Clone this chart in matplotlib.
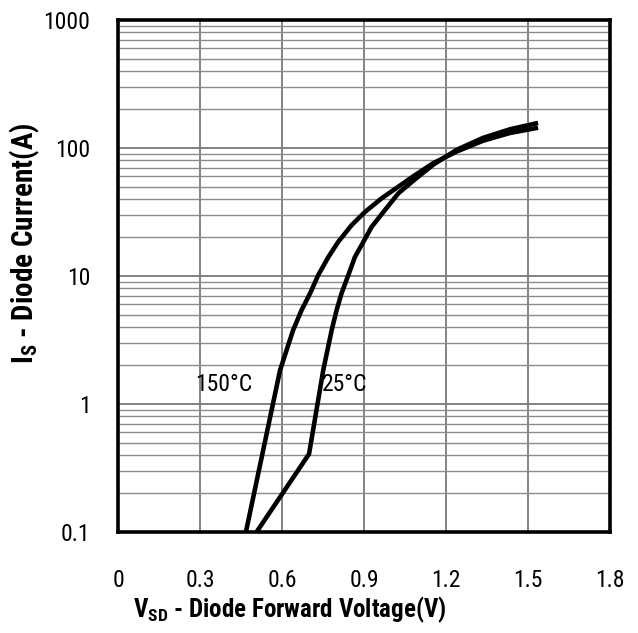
import numpy as np
import matplotlib
matplotlib.use('Agg')
import matplotlib.pyplot as plt
import matplotlib.ticker as mticker
from matplotlib import font_manager

# Curvas de corrente direta do diodo (V, A)
V_150 = [0.468, 0.593, 0.641, 0.672, 0.703, 0.733, 0.770, 0.806, 0.855,
         0.904, 0.965, 1.026, 1.080, 1.153, 1.240, 1.336, 1.434, 1.537]
I_150 = [0.1, 1.84, 3.79, 5.43, 7.33, 10.2, 14.1, 18.5, 25,
         31.7, 40.5, 49.9, 60, 76, 94, 114, 131, 144]
V_25 = [0.507, 0.699, 0.751, 0.782, 0.800, 0.818, 0.843, 0.867, 0.898,
        0.928, 0.977, 1.026, 1.087, 1.153, 1.240, 1.336, 1.434, 1.537]
I_25 = [0.1, 0.407, 1.84, 3.79, 5.43, 7.33, 10.2, 14.1, 18.5,
        24.2, 32.8, 44.3, 57, 74, 97, 120, 140, 157]

XTICKS = [0, 0.3, 0.6, 0.9, 1.2, 1.5, 1.8]
XTICKLABELS = ['0', '0.3', '0.6', '0.9', '1.2', '1.5', '1.8']
YTICKS = [0.1, 1, 10, 100, 1000]
YTICKLABELS = ['0.1', '1', '10', '100', '1000']

# fonte estreita, se houver
nomes = {f.name for f in font_manager.fontManager.ttflist}
condensadas = {f.name for f in font_manager.fontManager.ttflist
               if f.stretch in ('condensed', 'semi-condensed', 'extra-condensed')}
NARROW = None
for nome in ['Liberation Sans Narrow', 'Arial Narrow', 'DejaVu Sans Condensed',
             'Roboto Condensed', 'Open Sans Condensed', 'Noto Sans Condensed']:
    if nome in nomes:
        NARROW = [nome, 'DejaVu Sans']
        STRETCH = 'normal'
        break
if NARROW is None:
    if 'DejaVu Sans' in condensadas:
        NARROW = ['DejaVu Sans']
        STRETCH = 'condensed'
    elif condensadas:
        NARROW = [sorted(condensadas)[0], 'DejaVu Sans']
        STRETCH = 'condensed'
    else:
        NARROW = ['DejaVu Sans']
        STRETCH = 'normal'
CONDENSADA = STRETCH != 'normal' or NARROW[0] != 'DejaVu Sans'
FS = 17 if CONDENSADA else 14
FSX = 18 if CONDENSADA else 15
FSY = 21 if CONDENSADA else 17

plt.rcParams['mathtext.default'] = 'regular'

fig = plt.figure(figsize=(6.38, 6.33), dpi=100)
ax = fig.add_axes([0.185, 0.1596, 0.771, 0.8088])

ax.set_yscale('log')
ax.set_xlim(0, 1.8)
ax.set_ylim(0.1, 1000)

# grade
ax.xaxis.set_major_locator(mticker.FixedLocator(XTICKS))
ax.yaxis.set_major_locator(mticker.FixedLocator(YTICKS))
ax.yaxis.set_minor_locator(mticker.LogLocator(base=10, subs=np.arange(2, 10)))
ax.yaxis.set_minor_formatter(mticker.NullFormatter())
ax.grid(True, which='major', axis='both', color='#7a7a7a', linewidth=1.3)
ax.grid(True, which='minor', axis='y', color='#8c8c8c', linewidth=1.0)
ax.set_axisbelow(True)

for v, i in ((V_150, I_150), (V_25, I_25)):
    ax.plot(v, i, color='black', linewidth=3.3, solid_capstyle='butt',
            solid_joinstyle='round', clip_on=False, zorder=5)

for s in ax.spines.values():
    s.set_linewidth(2.6)
    s.set_color('black')

ax.set_xticks(XTICKS)
ax.set_xticklabels(XTICKLABELS, family=NARROW, stretch=STRETCH, fontsize=FS)
ax.set_yticks(YTICKS)
ax.set_yticklabels(YTICKLABELS, family=NARROW, stretch=STRETCH, fontsize=FS)
ax.tick_params(which='both', length=0)
ax.tick_params(axis='x', pad=27)
ax.tick_params(axis='y', pad=20)

ax.text(0.492, 1.42, '150°C', family=NARROW, stretch=STRETCH, fontsize=FS,
        ha='right', va='center')
ax.text(0.746, 1.42, '25°C', family=NARROW, stretch=STRETCH, fontsize=FS,
        ha='left', va='center')

fig.text(290 / 638, 1 - 610 / 633,
         'V$_{SD}$ - Diode Forward Voltage(V)',
         family=NARROW, stretch=STRETCH, fontsize=FSX, fontweight='bold',
         ha='center', va='center')
fig.text(25 / 638, 1 - 243 / 633,
         'I$_{S}$ - Diode Current(A)',
         family=NARROW, stretch=STRETCH, fontsize=FSY, fontweight='bold',
         ha='center', va='center', rotation=90)

fig.savefig('out.png', dpi=100)
